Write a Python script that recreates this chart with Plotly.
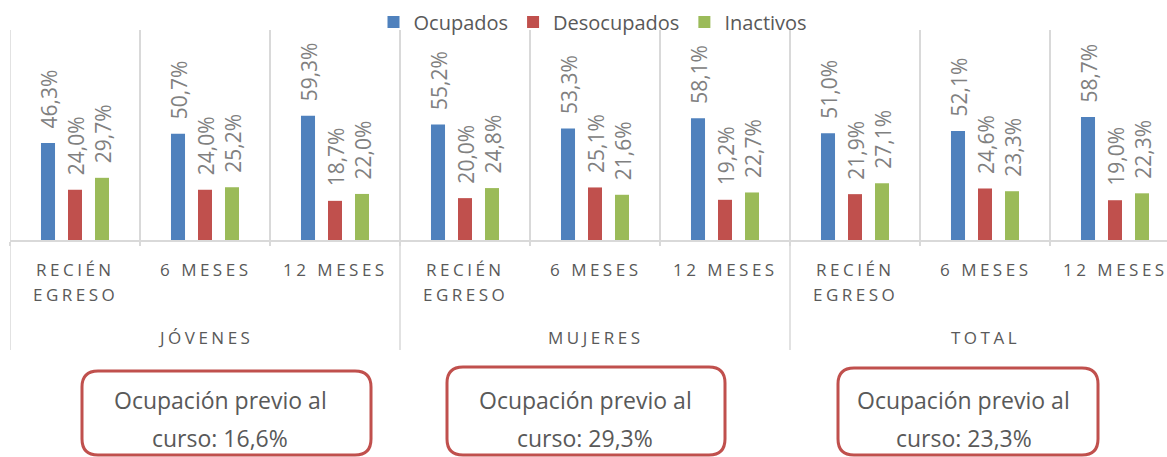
import plotly.graph_objects as go

# ---------------- data ----------------
groups = ["JÓVENES", "MUJERES", "TOTAL"]
periods = ["RECIÉN EGRESO", "6 MESES", "12 MESES"]
series_names = ["Ocupados", "Desocupados", "Inactivos"]
ocupados = [46.3, 50.7, 59.3, 55.2, 53.3, 58.1, 51.0, 52.1, 58.7]
desocupados = [24.0, 24.0, 18.7, 20.0, 25.1, 19.2, 21.9, 24.6, 19.0]
inactivos = [29.7, 25.2, 22.0, 24.8, 21.6, 22.7, 27.1, 23.3, 22.3]
previo_curso = [16.6, 29.3, 23.3]

# ---------------- styles ----------------
colors = ["#4f81bd", "#c0504d", "#9bbb59"]
FONT = "Open Sans"
TXT = "#595959"
LBL = "#808080"
GRID = "#d9d9d9"

W, H = 1167, 457
ML, MR, MT, MB = 10, 0, 30, 217
PW, PH = W - ML - MR, H - MT - MB


def px2paper_x(px):
    return (px - ML) / PW


def px2paper_y(py):
    return (H - MB - py) / PH


cats = [f"{g} · {p}" for g in groups for p in periods]
values = [ocupados, desocupados, inactivos]

fig = go.Figure()
for name, vals, col in zip(series_names, values, colors):
    fig.add_trace(go.Bar(x=cats, y=vals, name=name, marker=dict(color=col, line=dict(width=0))))


def fmt(v):
    return f"{v:.1f}".replace(".", ",") + "%"


annotations = []
shifts = [-27, 0, 27]
for vals, sh in zip(values, shifts):
    for c, v in zip(cats, vals):
        annotations.append(dict(
            x=c, y=v, xref="x", yref="y", text=fmt(v), showarrow=False,
            textangle=-90, xanchor="center", yanchor="bottom", xshift=sh + 1, yshift=12,
            font=dict(family=FONT, size=21, color=LBL)))


def spaced(t):
    return f"<span style='letter-spacing:3.5px'>{t}</span>"


def wrap(p):
    return p.split(" ") if len(p) > 8 else [p]


# category labels
for gi, g in enumerate(groups):
    for pi, p in enumerate(periods):
        idx = gi * len(periods) + pi
        for li, line in enumerate(wrap(p)):
            annotations.append(dict(
                x=idx, xref="x", y=px2paper_y(269 + 25.5 * li), yref="paper",
                text=spaced(line), showarrow=False, xanchor="center", yanchor="middle", xshift=0,
                font=dict(family=FONT, size=17, color=TXT)))
    annotations.append(dict(
        x=gi * len(periods) + 1, xref="x", y=px2paper_y(337), yref="paper",
        text=spaced(g), showarrow=False, xanchor="center", yanchor="middle", xshift=0,
        font=dict(family=FONT, size=17, color=TXT)))

shapes = []
# left edge and group separators extending below the axis
for gi in range(len(groups)):
    shapes.append(dict(type="line", xref="x", yref="paper",
                       x0=gi * len(periods) - 0.5, x1=gi * len(periods) - 0.5,
                       y0=1, y1=px2paper_y(350), line=dict(color=GRID, width=1.5)))

# rounded boxes with "Ocupación previo al curso"
boxes = [(82, 371, 371, 455, 220), (447, 367, 725, 455, 585), (838, 368, 1098, 455, 964)]
R = 16
for (x0, y0, x1, y1, tc), pv in zip(boxes, previo_curso):
    X = px2paper_x
    Y = px2paper_y
    path = (f"M {X(x0 + R)},{Y(y0)} L {X(x1 - R)},{Y(y0)} Q {X(x1)},{Y(y0)} {X(x1)},{Y(y0 + R)} "
            f"L {X(x1)},{Y(y1 - R)} Q {X(x1)},{Y(y1)} {X(x1 - R)},{Y(y1)} "
            f"L {X(x0 + R)},{Y(y1)} Q {X(x0)},{Y(y1)} {X(x0)},{Y(y1 - R)} "
            f"L {X(x0)},{Y(y0 + R)} Q {X(x0)},{Y(y0)} {X(x0 + R)},{Y(y0)} Z")
    shapes.append(dict(type="path", xref="paper", yref="paper", path=path,
                       line=dict(color="#c0504d", width=3), fillcolor="white", layer="above"))
    annotations.append(dict(x=px2paper_x(tc), y=px2paper_y(400), xref="paper", yref="paper",
                            text="Ocupación previo al", showarrow=False, xanchor="center", yanchor="middle",
                            font=dict(family=FONT, size=23, color=TXT)))
    annotations.append(dict(x=px2paper_x(tc), y=px2paper_y(438), xref="paper", yref="paper",
                            text="curso: " + fmt(pv), showarrow=False, xanchor="center", yanchor="middle",
                            font=dict(family=FONT, size=23, color=TXT)))

fig.update_layout(
    width=W, height=H,
    margin=dict(l=ML, r=MR, t=MT, b=MB),
    paper_bgcolor="white", plot_bgcolor="white",
    barmode="group", bargap=0.377, bargroupgap=0.48,
    font=dict(family=FONT, color=TXT),
    showlegend=True,
    legend=dict(orientation="h", x=px2paper_x(593), xanchor="center", y=px2paper_y(22), yanchor="middle",
                font=dict(family=FONT, size=20, color=TXT), itemwidth=30, bgcolor="rgba(0,0,0,0)"),
    xaxis=dict(type="category", range=[-0.5, -0.5 + PW / 130.0], showticklabels=False,
               showgrid=True, gridcolor=GRID, gridwidth=1.5, tickson="boundaries",
               ticks="outside", ticklen=4, tickcolor=GRID, tickwidth=1.5,
               showline=True, linecolor=GRID, linewidth=2, zeroline=False, fixedrange=True),
    yaxis=dict(range=[0, 100.3], visible=False, showgrid=False, zeroline=False, fixedrange=True),
    annotations=annotations,
    shapes=shapes,
)

fig.write_html("out.html", config={"displayModeBar": False},
               post_script="document.body.style.margin='0';document.body.style.padding='0';")
